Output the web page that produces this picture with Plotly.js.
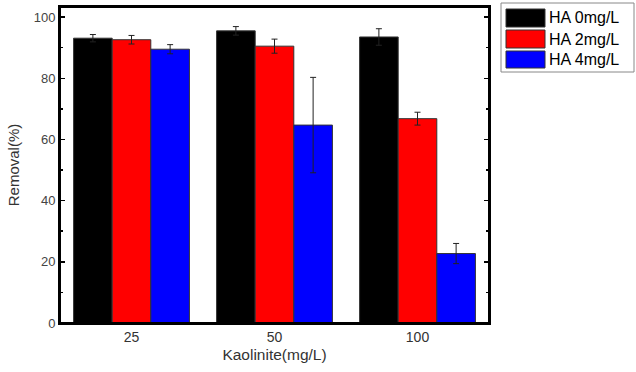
<!DOCTYPE html>
<html><head><meta charset="utf-8">
<script src="https://cdn.plot.ly/plotly-3.0.1.min.js"></script>
<style>html,body{margin:0;padding:0;background:#fff}#chart{width:636px;height:372px}</style>
</head><body><div id="chart"></div>
<script>
const categories = ['25', '50', '100'];
const seriesNames = ['HA 0mg/L', 'HA 2mg/L', 'HA 4mg/L'];
const ha0 = [93.1, 95.5, 93.5];
const ha0Err = [1.2, 1.4, 2.7];
const ha2 = [92.6, 90.5, 66.8];
const ha2Err = [1.4, 2.3, 2.1];
const ha4 = [89.5, 64.7, 22.7];
const ha4Err = [1.5, 15.6, 3.3];
const colors = ['#000000', '#ff0000', '#0000ff'];

const values = [ha0, ha2, ha4];
const errs = [ha0Err, ha2Err, ha4Err];
const traces = values.map((v, i) => ({
  type: 'bar', x: categories, y: v, name: seriesNames[i],
  marker: {color: colors[i], line: {color: '#333', width: 1}},
  error_y: {type: 'data', array: errs[i], visible: true, color: '#222', thickness: 1, width: 3},
  showlegend: false
}));

const font = {family: 'Liberation Sans, Arial, sans-serif', size: 14, color: '#333'};
const shapes = [{type: 'rect', xref: 'paper', yref: 'paper', x0: 0, x1: 1, y0: 0, y1: 1, line: {color: '#000', width: 2}, layer: 'above'}];
const annotations = [];
// legend (paper coords relative to plot area)
const W = 429, H = 316; // plot area size px
const px = x => (x - 60) / W, py = y => (323 - y) / H;
shapes.push({type: 'rect', xref: 'paper', yref: 'paper', x0: px(501), x1: px(634), y0: py(72), y1: py(3), line: {color: '#888', width: 1}, fillcolor: '#fff'});
const rows = [[9, 27], [30, 48], [51, 68]];
seriesNames.forEach((n, i) => {
  shapes.push({type: 'rect', xref: 'paper', yref: 'paper', x0: px(506), x1: px(545), y0: py(rows[i][1]), y1: py(rows[i][0]), fillcolor: colors[i], line: {color: '#333', width: 1}});
  annotations.push({xref: 'paper', yref: 'paper', x: px(547), y: py((rows[i][0] + rows[i][1]) / 2), text: n, showarrow: false, xanchor: 'left', yanchor: 'middle', font: {family: font.family, size: 16, color: '#000'}});
});

const layout = {
  width: 636, height: 372,
  margin: {l: 60, r: 147, t: 7, b: 49},
  paper_bgcolor: '#fff', plot_bgcolor: '#fff',
  font: font,
  barmode: 'group', bargap: 0.19, bargroupgap: 0,
  showlegend: false,
  xaxis: {
    type: 'category', range: [-0.5, 2.5], ticks: '', showgrid: false, zeroline: false,
    showline: true, linecolor: '#000', linewidth: 2, mirror: true,
    tickfont: {size: 14, color: '#333'},
    title: {text: 'Kaolinite(mg/L)', font: {size: 15.5, color: '#333'}, standoff: 5}
  },
  yaxis: {
    range: [0, 103.3], dtick: 20, ticks: 'inside', ticklen: 5, tickwidth: 1.5, tickcolor: '#000',
    showgrid: false, zeroline: false, showline: true, linecolor: '#000', linewidth: 2, mirror: 'ticks',
    minor: {dtick: 10, ticks: 'inside', ticklen: 3, tickcolor: '#000'},
    tickfont: {size: 13, color: '#444'},
    title: {text: 'Removal(%)', font: {size: 15, color: '#333'}, standoff: 10}
  },
  shapes: shapes, annotations: annotations
};
Plotly.newPlot('chart', traces, layout, {displayModeBar: false, staticPlot: true});
</script></body></html>
